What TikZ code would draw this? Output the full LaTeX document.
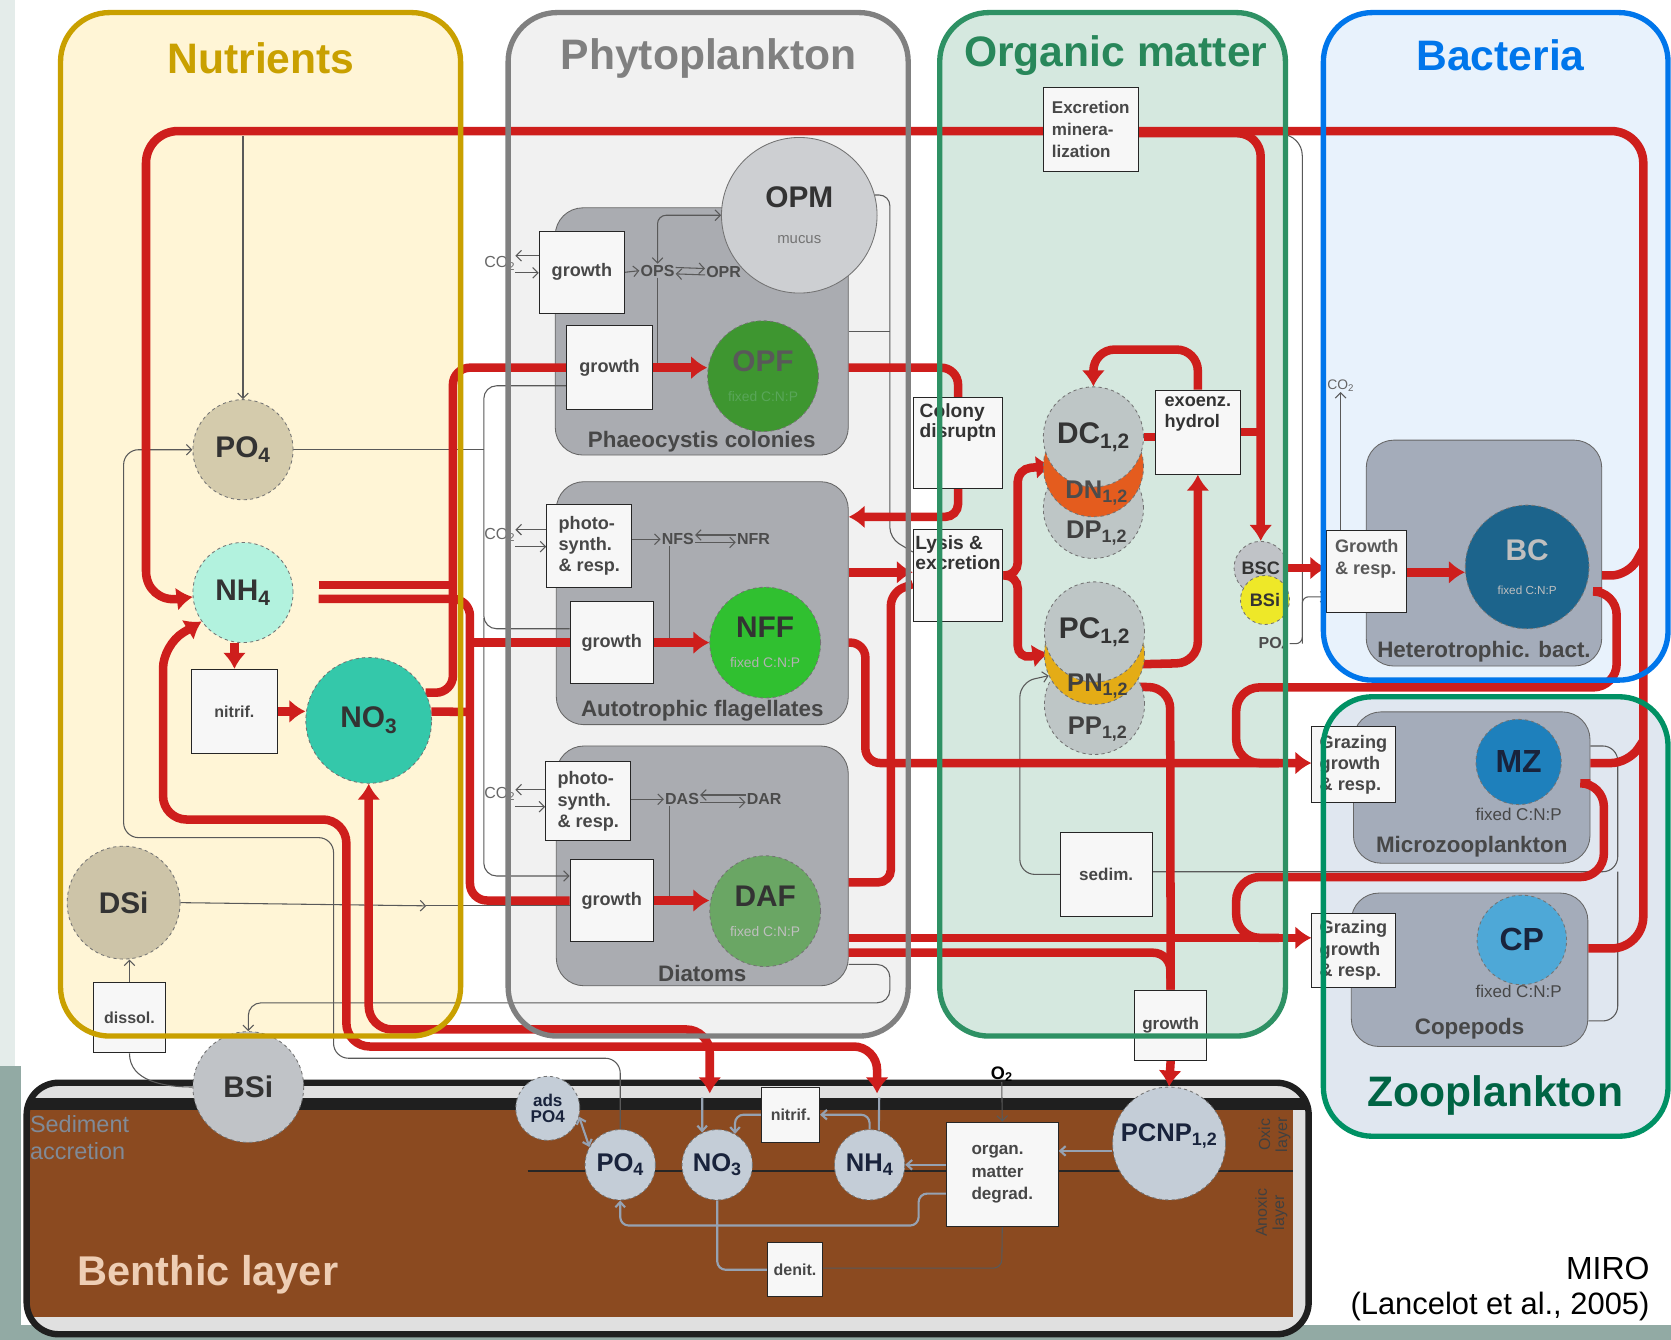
\documentclass[tikz,border=0pt]{standalone}
\usepackage{fontspec}
\setmainfont{Liberation Sans}
\usetikzlibrary{arrows.meta, positioning, calc}
\pgfdeclarelayer{back}
\pgfdeclarelayer{links}
\pgfdeclarelayer{front}
\pgfsetlayers{back,links,main,front}

\definecolor{nutGold}{RGB}{201,160,0}
\definecolor{nutFill}{RGB}{255,245,214}
\definecolor{phyGray}{RGB}{128,128,128}
\definecolor{phyFill}{RGB}{241,241,241}
\definecolor{omGreen}{RGB}{46,145,100}
\definecolor{omText}{RGB}{40,135,90}
\definecolor{omFill}{RGB}{213,232,223}
\definecolor{bacBlue}{RGB}{0,118,235}
\definecolor{bacFill}{RGB}{232,242,252}
\definecolor{zooGreen}{RGB}{0,145,100}
\definecolor{zooText}{RGB}{0,100,68}
\definecolor{zooFill}{RGB}{224,231,240}
\definecolor{benBrown}{RGB}{139,74,32}
\definecolor{benText}{RGB}{238,206,180}
\definecolor{fluxRed}{RGB}{206,30,28}
\definecolor{subGray}{RGB}{170,172,177}
\definecolor{subBlue}{RGB}{164,172,186}
\definecolor{linkBlue}{RGB}{150,162,178}
\definecolor{slideGreen}{RGB}{146,170,164}
\definecolor{slideLight}{RGB}{228,236,234}
\definecolor{poTan}{RGB}{212,203,172}
\definecolor{nhAqua}{RGB}{178,242,222}
\definecolor{noTeal}{RGB}{52,200,170}
\definecolor{dsiTan}{RGB}{205,196,168}
\definecolor{poolGray}{RGB}{192,195,199}
\definecolor{opfGreen}{RGB}{62,150,48}
\definecolor{nffGreen}{RGB}{48,192,48}
\definecolor{dafGreen}{RGB}{106,166,100}
\definecolor{omPool}{RGB}{190,198,198}
\definecolor{dnOrange}{RGB}{228,92,30}
\definecolor{pnYellow}{RGB}{228,172,22}
\definecolor{bsiYellow}{RGB}{238,232,40}
\definecolor{bcBlue}{RGB}{28,100,140}
\definecolor{mzBlue}{RGB}{30,128,188}
\definecolor{cpBlue}{RGB}{78,168,215}
\definecolor{benPool}{RGB}{196,205,215}
\definecolor{navy}{RGB}{25,35,60}

\tikzset{
  panelbox/.style={rectangle, draw=none, rounded corners=46pt, inner sep=0pt},
  panel/.style={line width=5pt, rounded corners=46pt},
  paneltitle/.style={font=\fontsize{40}{44}\selectfont\bfseries},
  subpanel/.style={rectangle, draw=black!60, line width=0.8pt, rounded corners=26pt, inner sep=0pt},
  sublabel/.style={font=\fontsize{21}{23}\selectfont\bfseries, text=black!72, inner sep=1pt},
  pool/.style={circle, draw=black!55, dashed, line width=0.8pt, inner sep=0pt, align=center,
    text=black!80, font=\fontsize{28}{30}\selectfont\bfseries},
  bpool/.style={pool, fill=benPool, text=navy, font=\fontsize{24}{26}\selectfont\bfseries},
  proc/.style={rectangle, draw=black!85, line width=0.9pt, fill=black!3, inner sep=2pt, align=left,
    text=black!72, font=\fontsize{17}{20}\selectfont\bfseries},
  boxtext/.style={inner sep=0pt, align=left, text=black!80, font=\fontsize{18}{19}\selectfont\bfseries},
  smalltxt/.style={inner sep=1pt, text=black!70, font=\fontsize{15}{17}\selectfont\bfseries},
  flux/.style={draw=fluxRed, line width=8pt, rounded corners=16pt},
  fluxarr/.style={flux, -{Latex[length=15pt,width=22pt]}},
  fluxboth/.style={flux, {Latex[length=15pt,width=22pt]}-{Latex[length=15pt,width=22pt]}},
  link/.style={draw=black!65, line width=1pt, rounded corners=12pt},
  linkarr/.style={link, -{Straight Barb[length=5pt,width=10pt]}},
  linkboth/.style={link, {Straight Barb[length=5pt,width=10pt]}-{Straight Barb[length=5pt,width=10pt]}},
  blink/.style={draw=linkBlue, line width=2pt, rounded corners=8pt},
  blinkarr/.style={blink, -{Straight Barb[length=5pt,width=9pt]}},
}

\begin{document}
\begin{tikzpicture}[x=1pt, y=-1pt]
\useasboundingbox (0,0) rectangle (1568,1257);

\begin{pgfonlayer}{back}
  \fill[white] (0,0) rectangle (1568,1257);
  \fill[slideLight] (0,0) rectangle (14,1000);
  \fill[slideGreen] (0,1000) rectangle (20,1257);
  \fill[slideGreen] (0,1243) rectangle (1568,1257);
  % panels
  \node[panelbox, fill=nutFill, minimum width=375pt, minimum height=960pt] (nut) at (244.5,492) {};
  \node[panelbox, fill=phyFill, minimum width=375pt, minimum height=960pt] (phy) at (664.5,492) {};
  \node[panelbox, fill=omFill, minimum width=324pt, minimum height=960pt] (om) at (1044,492) {};
  \node[panelbox, fill=bacFill, minimum width=323pt, minimum height=626pt] (bac) at (1403.5,325) {};
  \node[panelbox, fill=zooFill, minimum width=323pt, minimum height=412pt] (zoo) at (1403.5,860) {};
  % benthic layer
  \begin{scope}
    \clip[rounded corners=30pt] (25,1016) rectangle (1228,1252);
    \fill[benBrown] (25,1016) rectangle (1228,1252);
    \fill[black!12] (25,1016) rectangle (1228,1030);
    \fill[black!88] (25,1030) rectangle (1228,1042);
    \fill[black!12] (1213,1042) rectangle (1228,1252);
    \fill[black!12] (25,1236) rectangle (1228,1252);
  \end{scope}
  \draw[line width=6pt, black!88, rounded corners=30pt] (25,1016) rectangle (1228,1252);
  % groups
  \node[subpanel, fill=subGray, minimum width=275pt, minimum height=232pt] (phaeo) at (658.5,311) {};
  \node[subpanel, fill=subGray, minimum width=274pt, minimum height=228pt] (af) at (659,566) {};
  \node[subpanel, fill=subGray, minimum width=274pt, minimum height=225pt] (diat) at (659,812.5) {};
  \node[subpanel, fill=subBlue, minimum width=221pt, minimum height=212pt] (hbact) at (1392.5,519) {};
  \node[subpanel, fill=subBlue, minimum width=222pt, minimum height=142pt] (mzp) at (1381,739) {};
  \node[subpanel, fill=subBlue, minimum width=222pt, minimum height=144pt] (cpp) at (1379,910) {};
\end{pgfonlayer}

% titles
\node[paneltitle, text=nutGold] (nuttitle) at (245,55) {Nutrients};
\node[paneltitle, text=phyGray] (phytitle) at (665,55) {Phytoplankton};
\node[paneltitle, text=omText] (omtitle) at (1047,52) {Organic matter};
\node[paneltitle, text=bacBlue] (bactitle) at (1408,52) {Bacteria};
\node[paneltitle, text=zooText] (zootitle) at (1403,1028) {Zooplankton};
\node[paneltitle, font=\fontsize{39}{42}\selectfont\bfseries, text=benText] (bentitle) at (195,1196) {Benthic layer};
\node[inner sep=0pt, anchor=north west, align=left, text=black!15!linkBlue, font=\fontsize{22}{25}\selectfont] (sedacc) at (28,1047) {Sediment\\accretion};
\node[inner sep=0pt, anchor=east, font=\fontsize{30}{32}\selectfont] (miro) at (1548,1190) {MIRO};
\node[inner sep=0pt, anchor=east, font=\fontsize{29}{32}\selectfont] (ref) at (1548,1226) {(Lancelot et al., 2005)};

% group labels
\node[sublabel, above=2pt of phaeo.south] (phaeolab) {Phaeocystis colonies};
\node[sublabel, above=2pt of af.south] (aflab) {Autotrophic flagellates};
\node[sublabel, above=3pt of diat.south] (diatlab) {Diatoms};
\node[sublabel, above=3pt of hbact.south] (hbactlab) {Heterotrophic. bact.};
\node[sublabel, above=5pt of mzp.south] (mzplab) {Microzooplankton};
\node[sublabel, above=6pt of cpp.south] (cpplab) {Copepods};
\node[inner sep=0pt, text=black!72, font=\fontsize{16}{18}\selectfont] (mzfix) at (1425,764) {fixed C:N:P};
\node[inner sep=0pt, text=black!72, font=\fontsize{16}{18}\selectfont] (cpfix) at (1425,930) {fixed C:N:P};

% nutrient pools
\node[pool, fill=poTan, minimum size=94pt] (po4) at (228,422) {PO\textsubscript{4}};
\node[pool, fill=nhAqua, minimum size=94pt] (nh4) at (228,556) {NH\textsubscript{4}};
\node[pool, fill=noTeal, minimum size=118pt] (no3) at (346,676) {NO\textsubscript{3}};
\node[pool, fill=dsiTan, minimum size=106pt] (dsi) at (116,847) {DSi};
\node[pool, fill=poolGray, minimum size=104pt] (bsi) at (233,1020) {BSi};
\node[proc, minimum width=80pt, minimum height=79pt, font=\fontsize{15}{17}\selectfont\bfseries] (nitrif) at (220,667.5) {nitrif.};
\node[proc, minimum width=67pt, minimum height=66pt, font=\fontsize{15}{17}\selectfont\bfseries] (dissol) at (121.5,955) {dissol.};

% phytoplankton
\node[proc, minimum width=80pt, minimum height=77pt] (g1) at (546,255.5) {growth};
\node[smalltxt] (ops) at (617,254) {OPS};
\node[smalltxt] (opr) at (679,255) {OPR};
\node[pool, solid, fill=poolGray!80!white, minimum size=146pt] (opm) at (750,202) {OPM\\[4pt]{\fontsize{14}{14}\selectfont\mdseries\color{black!55}mucus}};
\node[proc, minimum width=80pt, minimum height=79pt] (g2) at (572,345) {growth};
\node[pool, fill=opfGreen, minimum size=104pt, text=black!65] (opf) at (716,353) {OPF\\[-2pt]{\fontsize{13}{13}\selectfont\mdseries\color{green!30!gray}fixed C:N:P}};
\node[proc, minimum width=80pt, minimum height=78pt] (ps1) at (553,512) {photo-\\synth.\\\& resp.};
\node[smalltxt] (nfs) at (636,506) {NFS};
\node[smalltxt] (nfr) at (707,506) {NFR};
\node[proc, minimum width=78pt, minimum height=77pt] (g3) at (574,603) {growth};
\node[pool, fill=nffGreen, minimum size=104pt] (nff) at (718,603) {NFF\\[-2pt]{\fontsize{13}{13}\selectfont\mdseries\color{black!30}fixed C:N:P}};
\node[proc, minimum width=80pt, minimum height=74pt] (ps2) at (552,752) {photo-\\synth.\\\& resp.};
\node[smalltxt] (das) at (640,750) {DAS};
\node[smalltxt] (dar) at (717,750) {DAR};
\node[proc, minimum width=78pt, minimum height=77pt] (g4) at (574,845) {growth};
\node[pool, fill=dafGreen, minimum size=104pt] (daf) at (718,855) {DAF\\[-2pt]{\fontsize{13}{13}\selectfont\mdseries\color{black!25}fixed C:N:P}};
\node[inner sep=0pt, text=black!60, font=\fontsize{15}{17}\selectfont] (co1) at (469,247) {CO\textsubscript{2}};
\node[inner sep=0pt, text=black!60, font=\fontsize{15}{17}\selectfont] (co2) at (469,502) {CO\textsubscript{2}};
\node[inner sep=0pt, text=black!60, font=\fontsize{15}{17}\selectfont] (co3) at (469,745) {CO\textsubscript{2}};

% organic matter
\node[proc, minimum width=89pt, minimum height=79pt, font=\fontsize{16}{21}\selectfont\bfseries] (excr) at (1023.5,121.5) {Excretion\\minera-\\lization};
\node[proc, minimum width=84pt, minimum height=85pt] (colony) at (899,415.5) {};
\node[boxtext, below=6pt of colony.north] (colonytxt) {Colony\\disruptn};
\node[proc, minimum width=84pt, minimum height=86pt] (lysis) at (899,540) {};
\node[boxtext, below=6pt of lysis.north] (lysistxt) {Lysis \&\\excretion};
\node[pool, fill=omPool, minimum size=94pt] (dp) at (1026,477) {};
\node[pool, fill=dnOrange, minimum size=94pt] (dn) at (1026,438) {};
\node[pool, fill=omPool, minimum size=94pt] (dc) at (1026,410) {DC\textsubscript{1,2}};
\node[inner sep=0pt, text=black!70, font=\fontsize{24}{26}\selectfont\bfseries] (dntxt) at (1029,463) {DN\textsubscript{1,2}};
\node[inner sep=0pt, text=black!75, font=\fontsize{24}{26}\selectfont\bfseries] (dptxt) at (1029,500) {DP\textsubscript{1,2}};
\node[pool, fill=omPool, minimum size=94pt] (pp) at (1027,661) {};
\node[pool, fill=pnYellow, minimum size=94pt] (pn) at (1027,614) {};
\node[pool, fill=omPool, minimum size=94pt] (pc) at (1027,593) {PC\textsubscript{1,2}};
\node[inner sep=0pt, text=black!75, font=\fontsize{24}{26}\selectfont\bfseries] (pntxt) at (1030,644) {PN\textsubscript{1,2}};
\node[inner sep=0pt, text=black!75, font=\fontsize{24}{26}\selectfont\bfseries] (pptxt) at (1030,684) {PP\textsubscript{1,2}};
\node[proc, minimum width=80pt, minimum height=79pt] (exoenz) at (1124,405.5) {};
\node[boxtext, below=7pt of exoenz.north, font=\fontsize{17}{19}\selectfont\bfseries] (exoenztxt) {exoenz.\\hydrol};
\node[proc, minimum width=86pt, minimum height=79pt, font=\fontsize{16}{18}\selectfont\bfseries] (sedim) at (1038,820.5) {sedim.};
\node[proc, minimum width=67pt, minimum height=66pt, font=\fontsize{16}{18}\selectfont\bfseries] (gom) at (1098.5,962) {growth};

% bacteria
\node[pool, fill=poolGray, minimum size=50pt, font=\fontsize{17}{18}\selectfont\bfseries] (bsc) at (1183,533) {BSC};
\node[pool, fill=bsiYellow, minimum size=46pt, font=\fontsize{17}{18}\selectfont\bfseries] (bsib) at (1187,563) {BSi};
\node[smalltxt] (pofour) at (1195,604) {PO\textsubscript{4}};
\node[proc, minimum width=75pt, minimum height=77pt] (gbac) at (1282.5,536.5) {};
\node[boxtext, below=8pt of gbac.north, font=\fontsize{17}{21}\selectfont\bfseries, text=black!65] (gbactxt) {Growth\\\& resp.};
\node[pool, fill=bcBlue, minimum size=116pt, text=black!25] (bc) at (1433,532) {BC\\[2pt]{\fontsize{11}{11}\selectfont\mdseries fixed C:N:P}};
\node[inner sep=0pt, text=black!60, font=\fontsize{13}{15}\selectfont] (co2b) at (1258,362) {CO\textsubscript{2}};

% zooplankton
\node[proc, minimum width=78pt, minimum height=71pt] (graz1) at (1270,717.5) {Grazing\\growth\\\& resp.};
\node[pool, fill=mzBlue, minimum size=80pt, text=navy, font=\fontsize{30}{32}\selectfont\bfseries] (mz) at (1425,715) {MZ};
\node[proc, minimum width=78pt, minimum height=70pt] (graz2) at (1270,892) {Grazing\\growth\\\& resp.};
\node[pool, fill=cpBlue, minimum size=84pt, text=navy, font=\fontsize{30}{32}\selectfont\bfseries] (cp) at (1428,882) {CP};

% benthic
\node[pool, fill=benPool, minimum size=60pt, text=navy, font=\fontsize{16}{15}\selectfont\bfseries] (ads) at (514,1040) {ads\\PO4};
\node[bpool, minimum size=66pt] (bpo4) at (582,1093) {PO\textsubscript{4}};
\node[bpool, minimum size=66pt] (bno3) at (673,1093) {NO\textsubscript{3}};
\node[bpool, minimum size=66pt] (bnh4) at (816,1093) {NH\textsubscript{4}};
\node[bpool, minimum size=106pt] (pcnp) at (1097,1073) {};
\node[inner sep=0pt, text=navy, font=\fontsize{24}{26}\selectfont\bfseries] (pcnptxt) at (1097,1066) {PCNP\textsubscript{1,2}};
\node[proc, minimum width=54pt, minimum height=52pt, font=\fontsize{15}{17}\selectfont\bfseries] (bnitrif) at (742,1046) {nitrif.};
\node[proc, minimum width=105pt, minimum height=98pt, font=\fontsize{16}{21}\selectfont\bfseries] (degrad) at (940.5,1102) {organ.\\matter\\degrad.};
\node[proc, minimum width=52pt, minimum height=51pt, font=\fontsize{15}{17}\selectfont\bfseries] (denit) at (746,1191.5) {denit.};
\node[inner sep=0pt, font=\fontsize{17}{18}\selectfont\bfseries] (otwo) at (940,1008) {O\textsubscript{2}};
\node[rotate=90, align=center, inner sep=0pt, text=black!75, font=\fontsize{15}{16}\selectfont] (oxic) at (1196,1065) {Oxic\\layer};
\node[rotate=90, align=center, inner sep=0pt, text=black!75, font=\fontsize{15}{16}\selectfont] (anoxic) at (1193,1138) {Anoxic\\layer};

\begin{pgfonlayer}{links}
  % thin links
  \draw[linkarr] (po4.north |- 0,128) -- (po4.north);
  \draw[link] (po4.east) -- (454,422);
  \draw[link] (g2.west |- 0,362) -- (454,362) -- (454,590) -- (g3.west |- 0,590);
  \draw[linkarr] (454,580) -- (454,822) -- (g4.west |- 0,822);
  \draw[linkarr] (dsi.east) -- (400,850);
  \draw[link] (400,850) -- (g4.west |- 0,850);
  \draw[linkarr] (dissol.north) -- (dsi.south -| dissol.north);
  \draw[link] (bsi.west) to[out=180, in=-90] (dissol.south);
  \draw[linkarr] (diat.east |- 0,905) -- (835,905) -- (835,941) -- (bsi.north |- 0,941) -- (bsi.north);
  \draw[linkarr, rounded corners=14pt] (bpo4.north) -- (582,993) -- (313,993) -- (313,786) -- (116,786) -- (116,422) -- (po4.west);
  \draw[linkarr] (g1.west |- 0,240) -- (co1.east |- 0,240);
  \draw[linkarr] (co1.east |- 0,256) -- (g1.west |- 0,256);
  \draw[linkarr] (ps1.west |- 0,497) -- (co2.east |- 0,497);
  \draw[linkarr] (co2.east |- 0,513) -- (ps1.west |- 0,513);
  \draw[linkarr] (ps2.west |- 0,741) -- (co3.east |- 0,741);
  \draw[linkarr] (co3.east |- 0,757) -- (ps2.west |- 0,757);
  \draw[linkarr] (g1.east) -- (ops.west);
  \draw[linkarr] ([yshift=3pt]ops.east) -- ([yshift=3pt]opr.west);
  \draw[linkarr] ([yshift=-3pt]opr.west) -- ([yshift=-3pt]ops.east);
  \draw[linkboth, rounded corners=8pt] (ops.north) |- (opm.west);
  \draw[link] (ops.south) -- (ops.south |- g2.east);
  \draw[linkarr] (ps1.east |- nfs) -- (nfs.west);
  \draw[linkarr] ([yshift=4pt]nfr.west) -- ([yshift=4pt]nfs.east);
  \draw[linkarr] ([yshift=-3pt]nfs.east) -- ([yshift=-3pt]nfr.west);
  \draw[link] ([xshift=-8pt]nfs.south) -- ([xshift=-8pt]nfs.south |- g3.east);
  \draw[linkarr] (ps2.east |- das) -- (das.west);
  \draw[linkarr] ([yshift=4pt]dar.west) -- ([yshift=4pt]das.east);
  \draw[linkarr] ([yshift=-3pt]das.east) -- ([yshift=-3pt]dar.west);
  \draw[link] ([xshift=-12pt]das.south) -- ([xshift=-12pt]das.south |- g4.east);
  \draw[link, rounded corners=10pt] (opm.15) -- (835,183) -- (835,505) -- (lysis.west |- 0,518);
  \draw[link] (phaeo.east |- 0,311) -- (835,311);
  \draw[linkarr, rounded corners=14pt] (sedim.west) -- (957,820.5) -- (957,640) -- (pn.205);
  \draw[link, rounded corners=14pt] (mzp.east |- 0,700) -- (1518,700) -- (1518,818) -- (sedim.east |- 0,818);
  \draw[link, rounded corners=14pt] (cpp.east |- 0,958) -- (1518,958) -- (1518,818);
  \draw[link, rounded corners=20pt] (excr.east |- 0,126) -- (1222,126) -- (1222,604);
  \draw[linkarr, rounded corners=6pt] (pofour.east) -- (1222,604) -- (1222,560) -- (gbac.west |- 0,560);
  \draw[linkarr] (gbac.north -| co2b.south) -- (co2b.south);
  % benthic links
  \draw[black!85, line width=1.5pt] (495,1099) -- (1213,1099);
  \draw[blinkarr] (bnh4.north) |- (bnitrif.east);
  \draw[blinkarr] (bnitrif.west) -| (bno3.60);
  \draw[blinkarr] (659,1030) -- (bno3.115);
  \draw[blink] (825,1030) -- (bnh4.75);
  \draw[blink, {Straight Barb[length=5pt,width=9pt]}-{Straight Barb[length=5pt,width=9pt]}] (ads.-15) -- (bpo4.150);
  \draw[blinkarr] (pcnp.west |- 0,1080) -- (degrad.east |- 0,1080);
  \draw[blinkarr] (degrad.west |- bnh4.east) -- (bnh4.east);
  \draw[blinkarr] (degrad.west |- 0,1120) -- (862,1120) -- (862,1150) -- (582,1150) -- (bpo4.south);
  \draw[linkarr] (otwo.south) -- (degrad.north);
  \draw[link, rounded corners=8pt] (degrad.south) -- (940,1190) -- (denit.east |- 0,1190);
  \draw[blink] (bno3.south) |- (denit.west);

  % nutrient uptake
  \draw[flux] (299,549) -- (425,549);
  \draw[flux] (no3.26) -- (425,650) -- (425,345) -- (g2.west);
  \draw[flux] (299,562) -- (441,562) -- (441,845) -- (g4.west);
  \draw[flux] (no3.8) -- (441,668);
  \draw[flux] (441,603) -- (g3.west);
  \draw[fluxarr] (g2.east) -- (opf.west |- g2.east);
  \draw[fluxarr] (g3.east) -- (nff.west);
  \draw[fluxarr] (g4.east) -- (daf.west |- g4.east);
  \draw[fluxarr] (nh4.south -| nitrif.north) -- (nitrif.north);
  \draw[fluxarr] (nitrif.east) -- (no3.west |- nitrif.east);
  % regeneration loop
  \draw[fluxarr, rounded corners=30pt] (cpp.east |- 0,890) -- (1542,890) -- (1542,123) -- (137,123) -- (137,566) -- (nh4.185);
  \draw[flux] (hbact.east |- 0,540) -- (1528,540) -- (1542,515);
  \draw[flux] (mzp.east |- 0,716) -- (1528,716) -- (1542,695);
  % organic matter and bacteria
  \draw[fluxarr, rounded corners=22pt] (excr.east |- 0,125) -- (1183,125) -- (bsc.north);
  \draw[flux] (exoenz.east) -- (1183,405.5);
  \draw[fluxarr] (bsc.east) -- (gbac.west |- bsc.east);
  \draw[fluxarr] (gbac.east |- 0,537) -- (bc.west |- 0,537);
  \draw[flux] (phaeo.east |- 0,345) -- (899,345) -- (colony.north);
  \draw[fluxarr, rounded corners=12pt] (colony.south) -- (899,485) -- (af.east |- 0,485);
  \draw[fluxarr] (af.east |- 0,537) -- (lysis.west |- 0,537);
  \draw[flux, rounded corners=12pt] (diat.east |- 0,828) -- (836,828) -- (836,556) -- (lysis.west |- 0,548);
  \draw[fluxarr, rounded corners=12pt] (lysis.east) -- (955,540) -- (955,440) -- (dc.215);
  \draw[fluxarr, rounded corners=12pt] (lysis.east) -- (955,540) -- (955,618) -- (pc.205);
  \draw[flux] (dc.east) -- (exoenz.west |- dc.east);
  \draw[fluxarr, rounded corners=20pt] (exoenz.north) -- (1124,328) -- (1026,328) -- (dc.north);
  \draw[fluxarr, rounded corners=20pt] (pc.-40) -- (1124,622) -- (exoenz.south);
  \draw[flux, rounded corners=20pt] (pn.-40) -- (1098,645) -- (gom.north);
  % grazing
  \draw[fluxarr, rounded corners=14pt] (af.east |- 0,603) -- (812,603) -- (812,716) -- (graz1.west |- 0,716);
  \draw[fluxarr] (diat.east |- 0,880) -- (graz2.west |- 0,880);
  \draw[flux] (diat.east |- 0,894) -- (1098,894) -- (gom.north);
  \draw[flux, rounded corners=22pt] (hbact.east |- 0,555) -- (1517,555) -- (1517,645) -- (1160,645) -- (1160,716) -- (1200,716);
  \draw[flux, rounded corners=22pt] (mzp.east |- 0,735) -- (1505,735) -- (1505,823) -- (1160,823) -- (1160,880) -- (1200,880);
  \draw[fluxarr] (gom.south) -- (pcnp.north);
  % exchange with the sediment
  \draw[fluxboth, rounded corners=22pt] (no3.south) -- (346,966) -- (666,966) -- (666,1026);
  \draw[fluxboth, rounded corners=22pt] (nh4.215) -- (153,605) -- (153,769) -- (325,769) -- (325,982) -- (823,982) -- (823,1026);
\end{pgfonlayer}

\begin{pgfonlayer}{front}
  \draw[panel, draw=nutGold] (nut.south west) rectangle (nut.north east);
  \draw[panel, draw=phyGray] (phy.south west) rectangle (phy.north east);
  \draw[panel, draw=omGreen] (om.south west) rectangle (om.north east);
  \draw[panel, draw=bacBlue] (bac.south west) rectangle (bac.north east);
  \draw[panel, draw=zooGreen] (zoo.south west) rectangle (zoo.north east);
\end{pgfonlayer}
\end{tikzpicture}
\end{document}
